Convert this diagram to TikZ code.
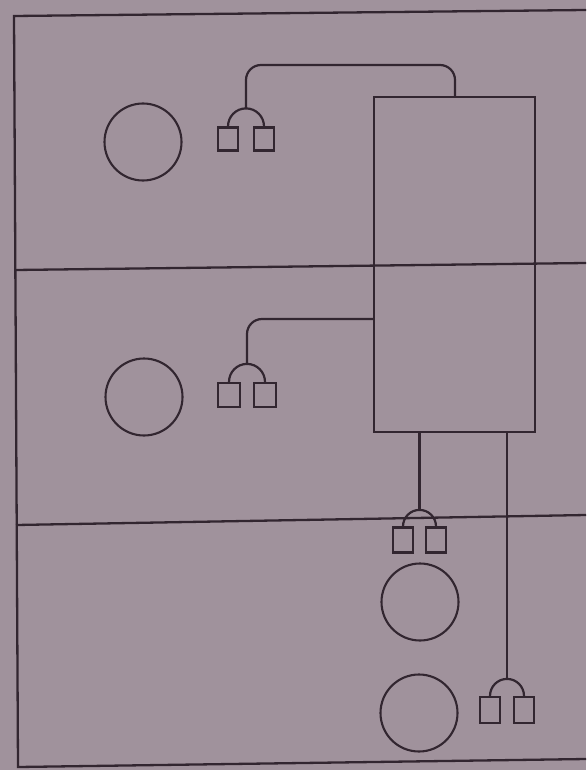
\documentclass[tikz,border=0pt]{standalone}
\usetikzlibrary{calc}
\definecolor{paper}{RGB}{160,146,156}
\definecolor{ink}{RGB}{50,38,48}
\begin{document}
\begin{tikzpicture}[x=1pt,y=-1pt,
  frameline/.style={draw=ink,line width=2.3pt},
  wire/.style={draw=ink,line width=2.2pt},
  outlet/.style={draw=ink,line width=2.2pt,rectangle,minimum width=20pt,minimum height=23pt,inner sep=0pt},
  room/.style={draw=ink,line width=2.1pt,circle,minimum size=77pt,inner sep=0pt},
  cabinet/.style={draw=ink,line width=2.3pt,rectangle,minimum width=161pt,minimum height=335pt,inner sep=0pt}]
\fill[paper] (0,0) rectangle (586,770);
\useasboundingbox (0,0) rectangle (586,770);
% frame
\draw[frameline] (586,10) -- (14,16) -- (18,767) -- (586,759);
\draw[frameline] (15,270) -- (586,263);
\draw[frameline] (16,525) -- (586,515);
% cabinet
\node[cabinet] (box) at (454.5,264.5) {};
% circles
\node[room] (c1) at (143,142) {};
\node[room] (c2) at (144,397) {};
\node[room] (c3) at (420,602) {};
\node[room] (c4) at (419,713) {};
% outlet pairs
\node[outlet] (s1a) at (228,139) {};
\node[outlet] (s1b) at (264,139) {};
\node[outlet,minimum width=22pt,minimum height=24pt] (s2a) at (229,395) {};
\node[outlet,minimum width=22pt,minimum height=24pt] (s2b) at (265,395) {};
\node[outlet,minimum height=25pt] (s3a) at (403,540) {};
\node[outlet,minimum height=25pt] (s3b) at (436,540) {};
\node[outlet,minimum height=26pt] (s4a) at (490,710) {};
\node[outlet,minimum height=26pt] (s4b) at (524,710) {};
% arcs
\draw[wire] (s1a.north) arc[start angle=180,end angle=0,radius=18pt];
\draw[wire] (s2a.north) arc[start angle=180,end angle=0,radius=18pt];
\draw[wire] (s3a.north) arc[start angle=180,end angle=0,radius=16.5pt];
\draw[wire] (s4a.north) arc[start angle=180,end angle=0,radius=17pt];
% arc tops
\coordinate (k1) at ($(s1a.north)!0.5!(s1b.north)+(0,-18)$);
\coordinate (k2) at ($(s2a.north)!0.5!(s2b.north)+(0,-18)$);
\coordinate (k3) at ($(s3a.north)!0.5!(s3b.north)+(0,-16.5)$);
\coordinate (k4) at ($(s4a.north)!0.5!(s4b.north)+(0,-17)$);
% feeders
\coordinate (j1) at (455,65);
\coordinate (h2) at (0,319);
\draw[wire,rounded corners=15pt] (k1) |- (j1) -- (j1 |- box.north);
\draw[wire,rounded corners=15pt] (k2) |- (box.west |- h2);
\draw[wire] (k3) -- (k3 |- box.south);
\draw[wire] (k4) -- (k4 |- box.south);
\end{tikzpicture}
\end{document}
